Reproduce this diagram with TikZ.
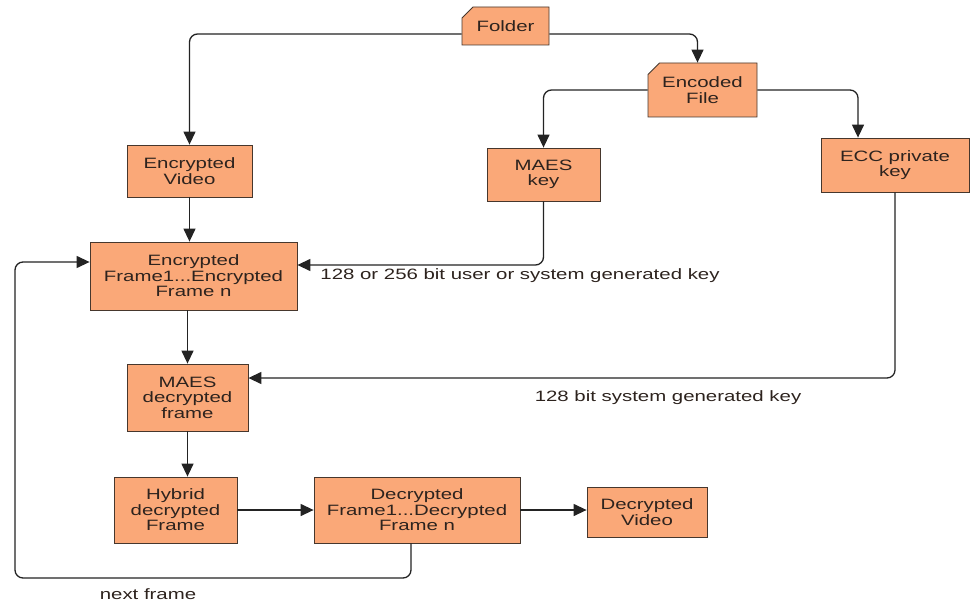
\documentclass[tikz,border=0pt]{standalone}
\usepackage{fontspec}
\setmainfont{Liberation Sans}[FakeStretch=1.36]
\usetikzlibrary{positioning}
\usetikzlibrary{arrows.meta}
\usetikzlibrary{shapes.misc}
\definecolor{boxfill}{RGB}{250,168,120}
\definecolor{boxline}{RGB}{70,55,45}
\definecolor{wire}{RGB}{35,35,35}
\definecolor{ink}{RGB}{45,35,30}

\tikzset{
  block/.style={draw=boxline, fill=boxfill, rectangle, thick, align=center, inner sep=2pt,
    text=ink, font=\fontsize{15}{15.5}\selectfont},
  doc/.style={block, chamfered rectangle, chamfered rectangle corners=north west,
    chamfered rectangle xsep=8pt},
  tip/.style={draw=wire, line width=1.3pt, rounded corners=8pt, -{Triangle[length=13pt,width=12pt]}},
  note/.style={text=ink, font=\fontsize{15}{15.5}\selectfont},
}

\begin{document}
\begin{tikzpicture}[x=1pt,y=-1pt]
  \useasboundingbox (0,0) rectangle (976,607);

  \node[doc, minimum width=87pt, minimum height=38pt] (folder) at (505.5,26) {Folder};
  \node[doc, minimum width=109pt, minimum height=54pt] (encfile) at (702.5,90) {Encoded\\File};
  \node[block, minimum width=125pt, minimum height=52pt] (encvideo) at (189.5,171) {Encrypted\\Video};
  \node[block, minimum width=113pt, minimum height=53pt] (maeskey) at (543.5,174.5) {MAES\\key};
  \node[block, minimum width=148pt, minimum height=54pt] (ecckey) at (895,165) {ECC private\\key};
  \node[block, minimum width=207pt, minimum height=68pt] (encframes) at (193.5,276) {Encrypted\\Frame1...Encrypted\\Frame n};
  \node[block, minimum width=121pt, minimum height=67pt] (maesdec) at (187.5,397.5) {MAES\\decrypted\\frame};
  \node[block, minimum width=123pt, minimum height=66pt] (hybrid) at (175.5,510) {Hybrid\\decrypted\\Frame};
  \node[block, minimum width=206pt, minimum height=66pt] (decframes) at (417,510) {Decrypted\\Frame1...Decrypted\\Frame n};
  \node[block, minimum width=120pt, minimum height=50pt] (decvideo) at (647,512) {Decrypted\\Video};

  \node[note] (userkey) at (520,276) {128 or 256 bit user or system generated key};
  \node[note] (syskey) at (668,398) {128 bit system generated key};
  \node[note] (next) at (148,594) {next frame};
  \coordinate (back) at (15,578);

  % folder splits into video and encoded file
  \draw[tip] ([yshift=-8pt]folder.west) -| (encvideo.north);
  \draw[tip] ([yshift=-8pt]folder.east) -| ([xshift=-5pt]encfile.north);
  \draw[tip] (encfile.west) -| (maeskey.north);
  \draw[tip] (encfile.east) -| ([xshift=-37pt]ecckey.north);

  % keys
  \draw[tip] (maeskey.south) |- ([yshift=11pt]encframes.east);
  \draw[tip] (ecckey.south) |- ([yshift=19.5pt]maesdec.east);

  % frame pipeline
  \draw[tip] (encvideo.south) -- (encvideo.south |- encframes.north);
  \draw[tip] (maesdec.north |- encframes.south) -- (maesdec.north);
  \draw[tip] (maesdec.south) -- (maesdec.south |- hybrid.north);
  \draw[tip] (hybrid.east) -- (decframes.west);
  \draw[tip] (decframes.east) -- (decframes.east -| decvideo.west);
  \draw[tip] ([xshift=-6pt]decframes.south) |- (back) |- ([yshift=14pt]encframes.west);
\end{tikzpicture}
\end{document}
